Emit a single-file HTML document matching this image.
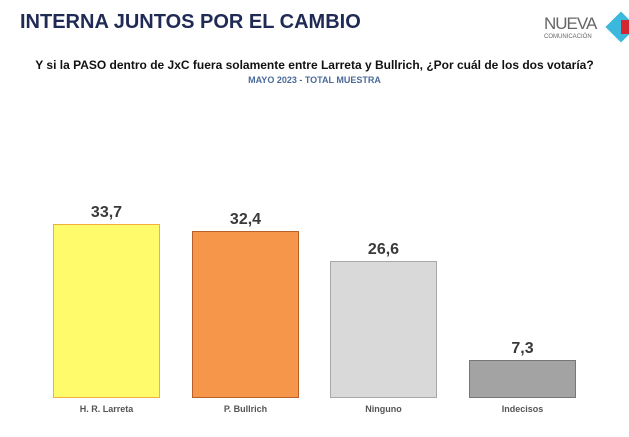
<!DOCTYPE html>
<html><head><meta charset="utf-8"><style>
body{margin:0;width:629px;height:437px;background:#fff;position:relative;overflow:hidden;font-family:"Liberation Sans",Arial,sans-serif}
.a{position:absolute}
.bar{position:absolute;box-sizing:border-box}
.v{position:absolute;width:107px;text-align:center;font-weight:bold;font-size:16px;color:#3a3a3a}
.l{position:absolute;width:107px;text-align:center;font-weight:bold;font-size:9px;color:#555}
</style></head><body>
<div class="a" style="left:20px;top:11px;font-size:20px;font-weight:bold;color:#1f2a55">INTERNA JUNTOS POR EL CAMBIO</div>
<div class="a" style="left:544px;top:14px;font-size:17px;color:#666;letter-spacing:-1px;font-family:'Liberation Sans Narrow','Liberation Sans',sans-serif">NUEVA</div>
<div class="a" style="left:544px;top:34px;font-size:6px;color:#666">COMUNICACIÓN</div>
<div class="a" style="left:610px;top:16px;width:22px;height:22px;background:#3bb8dc;transform:rotate(45deg)"></div>
<div class="a" style="left:621px;top:20px;width:10px;height:14px;background:#d3262e"></div>
<div class="a" style="left:0;width:629px;top:58px;text-align:center;font-size:12px;font-weight:bold;color:#111">Y si la PASO dentro de JxC fuera solamente entre Larreta y Bullrich, ¿Por cuál de los dos votaría?</div>
<div class="a" style="left:0;width:629px;top:75px;text-align:center;font-size:9px;font-weight:bold;color:#4a6a9a">MAYO 2023 - TOTAL MUESTRA</div>

<div class="bar" style="left:53px;top:224px;width:107px;height:174px;background:#fffb6b;border:1px solid #f0b040"></div>
<div class="v" style="left:53px;top:204px">33,7</div>
<div class="l" style="left:53px;top:404px">H. R. Larreta</div>

<div class="bar" style="left:192px;top:231px;width:107px;height:167px;background:#f5964a;border:1px solid #b8602a"></div>
<div class="v" style="left:192px;top:211px">32,4</div>
<div class="l" style="left:192px;top:404px">P. Bullrich</div>

<div class="bar" style="left:330px;top:261px;width:107px;height:137px;background:#d9d9d9;border:1px solid #a8a8a8"></div>
<div class="v" style="left:330px;top:241px">26,6</div>
<div class="l" style="left:330px;top:404px">Ninguno</div>

<div class="bar" style="left:469px;top:360px;width:107px;height:38px;background:#a3a3a3;border:1px solid #777"></div>
<div class="v" style="left:469px;top:340px">7,3</div>
<div class="l" style="left:469px;top:404px">Indecisos</div>
</body></html>
